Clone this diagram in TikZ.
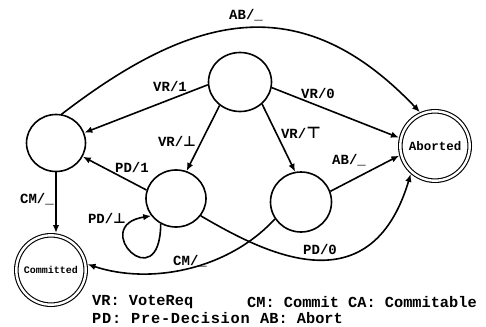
\documentclass[tikz,border=0pt]{standalone}
\usepackage{fontspec}
\setmonofont{Liberation Mono}
\newfontfamily\symfnt{DejaVu Sans}
\usetikzlibrary{arrows.meta,shapes.geometric}
\begin{document}
\begin{tikzpicture}[x=1pt,y=-1pt,
  state/.style={ellipse, draw, line width=1.6pt, inner sep=0pt},
  final/.style={circle, draw, double, double distance=2.4pt, line width=1.1pt,
    minimum size=69.4pt, inner sep=0pt, outer sep=2.3pt},
  trans/.style={line width=1.6pt, -{Latex[length=8pt,width=6.5pt]}},
  lbl/.style={font=\ttfamily\bfseries\fontsize{14}{14}\selectfont, inner sep=0pt},
  legend/.style={font=\ttfamily\bfseries\fontsize{15.3}{15.3}\selectfont, inner sep=0pt, anchor=west}
]
\useasboundingbox (0,0) rectangle (486,326);

% states
\node[state, minimum width=63pt, minimum height=59pt] (top)  at (240,82)    {};
\node[state, minimum width=59pt, minimum height=57pt] (left) at (56,143)    {};
\node[state, minimum width=60pt, minimum height=57pt] (midL) at (176,198.5) {};
\node[state, minimum width=61pt, minimum height=60pt] (midR) at (301,202)   {};
\node[final, font=\ttfamily\bfseries\fontsize{12.5}{12.5}\selectfont] (aborted)   at (435,146) {Aborted};
\node[final, font=\ttfamily\bfseries\fontsize{10}{10}\selectfont]     (committed) at (51,270)  {Committed};

% transitions
\draw[trans] (left.79) .. controls (192,14) and (300,-14) .. (aborted.114);
\draw[trans] (top.185) -- (left.20);
\draw[trans] (top.229) -- (midL.69);
\draw[trans] (top.315) -- (midR.101);
\draw[trans] (top.350) -- (aborted.167);
\draw[trans] (midR.20) -- (aborted.195);
\draw[trans] (midL.164) -- (left.333);
\draw[trans] (left.south) -- (committed.north -| left.south);
\draw[trans] (midL.239) .. controls (160,300) and (88,226) .. (midL.215);
\draw[trans] (midL.325) .. controls (261,251) and (370,310) .. (aborted.229);
\draw[trans] (midR.213) .. controls (228,270) and (150,285) .. (committed.9);

% transition labels
\node[lbl] (l-ab1) at (246,15)  {AB/\_};
\node[lbl] (l-vr1) at (170,86)  {VR/1};
\node[lbl] (l-vrb) at (177,141) {VR/{\symfnt\bfseries ⊥}};
\node[lbl] (l-vrt) at (301,133) {VR/{\symfnt\bfseries\fontsize{16}{16}\selectfont ⊤}};
\node[lbl] (l-vr0) at (318,93)  {VR/0};
\node[lbl] (l-ab2) at (349,160) {AB/\_};
\node[lbl] (l-pd1) at (132,167) {PD/1};
\node[lbl] (l-pdb) at (107,218) {PD/{\symfnt\bfseries ⊥}};
\node[lbl] (l-cm1) at (37,199)  {CM/\_};
\node[lbl] (l-cm2) at (190,261) {CM/\_};
\node[lbl] (l-pd0) at (320,249) {PD/0};

% legend
\node[legend] (k-vr) at (92,302)  {VR: VoteReq};
\node[legend] (k-cm) at (247,302) {CM: Commit CA: Commitable};
\node[legend] (k-pd) at (92,318)  {\addfontfeature{LetterSpace=5}PD: Pre-Decision};
\node[legend] (k-ab) at (260,318) {AB: Abort};
\end{tikzpicture}
\end{document}
